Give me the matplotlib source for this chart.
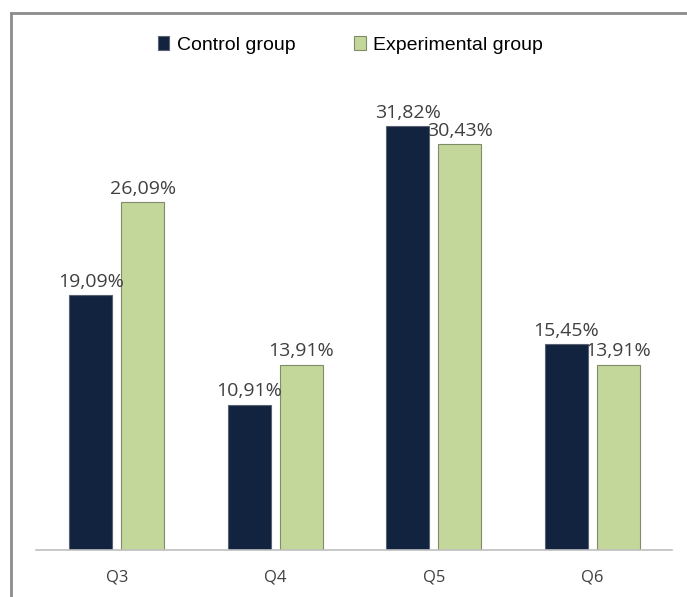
import numpy as np
import matplotlib
matplotlib.use("Agg")
from matplotlib import pyplot as plt
from matplotlib.lines import Line2D

# data
questions = ["Q3", "Q4", "Q5", "Q6"]
control = [19.09, 10.91, 31.82, 15.45]
experimental = [26.09, 13.91, 30.43, 13.91]
series_names = ["Control group", "Experimental group"]

fig = plt.figure(figsize=(6.87, 5.97), dpi=100)
ax = fig.add_axes([0.0524, 0.0787, 0.9256, 0.7817])

x = np.arange(len(questions))
w = 0.27
off = 0.164
b1 = ax.bar(x - off, control, w, color="#12233f", edgecolor="#5a6272", linewidth=0.8,
            label=series_names[0])
b2 = ax.bar(x + off, experimental, w, color="#c4d79b", edgecolor="#7f8c6a", linewidth=0.8,
            label=series_names[1])

for bars, vals in ((b1, control), (b2, experimental)):
    for r, v in zip(bars, vals):
        ax.annotate(f"{v:.2f}%".replace(".", ","),
                    (r.get_x() + r.get_width() / 2, r.get_height()),
                    xytext=(0, 3), textcoords="offset points",
                    ha="center", va="bottom", fontsize=14,
                    color="#404040", family="Open Sans")

ax.set_xlim(-0.51, 3.503)
ax.set_ylim(0, 35)
ax.set_xticks(x)
ax.set_xticklabels(questions, fontsize=12, color="#404040", family="Open Sans")
ax.tick_params(axis="x", length=0, pad=14)
ax.set_yticks([])
for s in ("left", "right", "top"):
    ax.spines[s].set_visible(False)
ax.spines["bottom"].set_color("#bfbfbf")
ax.spines["bottom"].set_linewidth(1.2)

leg = fig.legend(handles=[b1, b2], loc="center", bbox_to_anchor=(0.51, 0.925),
                 ncol=2, frameon=False, handlelength=0.6, handleheight=0.7,
                 handletextpad=0.4, columnspacing=3.0,
                 prop={"family": "Liberation Sans", "size": 14})

# outer frame (left and top edges only)
fig.add_artist(Line2D([0.016, 0.016], [0, 0.978], color="#8c8c8c", lw=2))
fig.add_artist(Line2D([0.016, 1], [0.978, 0.978], color="#8c8c8c", lw=2))

fig.savefig("out.png", dpi=100)
